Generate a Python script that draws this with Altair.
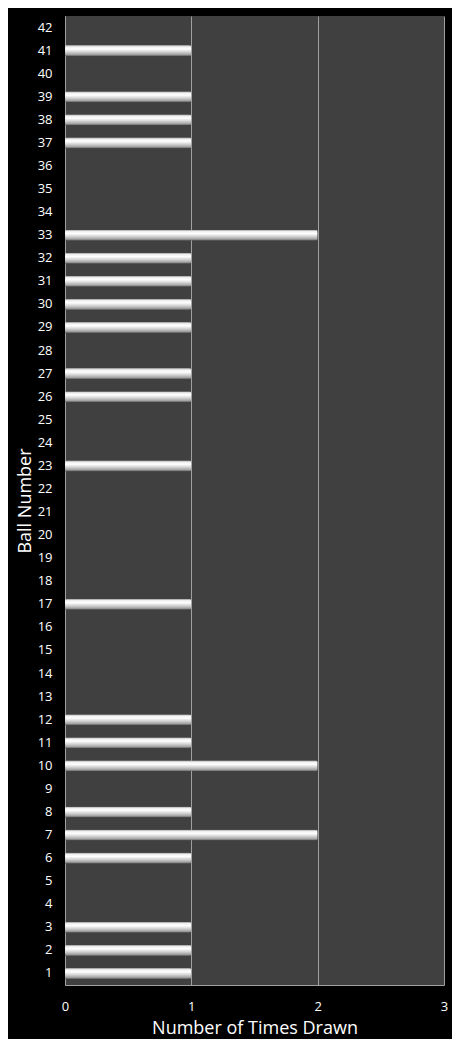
import altair as alt
import pandas as pd

# ball numbers and how many times each was drawn
balls = list(range(1, 43))
drawn_balls = [1, 2, 3, 6, 7, 8, 10, 11, 12, 17, 23, 26, 27, 29, 30, 31, 32, 33, 37, 38, 39, 41]
drawn_counts = [1, 1, 1, 1, 2, 1, 2, 1, 1, 1, 1, 1, 1, 1, 1, 1, 1, 2, 1, 1, 1, 1]
x_ticks = [0, 1, 2, 3]

counts = {b: 0 for b in balls}
for b, c in zip(drawn_balls, drawn_counts):
    counts[b] = c

df = pd.DataFrame({'Ball': [str(b) for b in balls], 'Count': [counts[b] for b in balls]})
order = [str(b) for b in reversed(balls)]

bar_fill = alt.Gradient(
    gradient='linear',
    x1=0, y1=0, x2=0, y2=1,
    stops=[
        alt.GradientStop(color='#8c8c8c', offset=0),
        alt.GradientStop(color='#eeeeee', offset=0.15),
        alt.GradientStop(color='#ffffff', offset=0.35),
        alt.GradientStop(color='#d6d6d6', offset=0.6),
        alt.GradientStop(color='#a4a4a4', offset=0.85),
        alt.GradientStop(color='#5a5a5a', offset=1),
    ]
)

chart = alt.Chart(df).mark_bar(color=bar_fill, cornerRadiusEnd=2).encode(
    x=alt.X('Count:Q', scale=alt.Scale(domain=[0, 3], nice=False),
            title='Number of Times Drawn',
            axis=alt.Axis(values=x_ticks, format='d', grid=True, ticks=False,
                          labelFlush=False, labelPadding=15, titlePadding=6)),
    y=alt.Y('Ball:N', sort=order, title='Ball Number',
            scale=alt.Scale(paddingInner=0.52, paddingOuter=0.26),
            axis=alt.Axis(ticks=False, grid=False, labelPadding=13, titlePadding=3))
).properties(
    width=379,
    height=969,
    background='black',
    padding={'left': 57, 'top': 8, 'right': 8, 'bottom': 54},
    autosize=alt.AutoSizeParams(type='none')
).configure_view(
    fill='#404040',
    stroke=None
).configure_axis(
    labelFont='Open Sans',
    labelFontSize=13,
    labelColor='white',
    titleFont='Open Sans',
    titleFontSize=18,
    titleFontWeight='normal',
    titleColor='white',
    gridColor='#a0a0a0',
    gridWidth=1,
    domainColor='#a0a0a0'
)

chart.save('out.html', embed_options={'renderer': 'svg', 'actions': False})
